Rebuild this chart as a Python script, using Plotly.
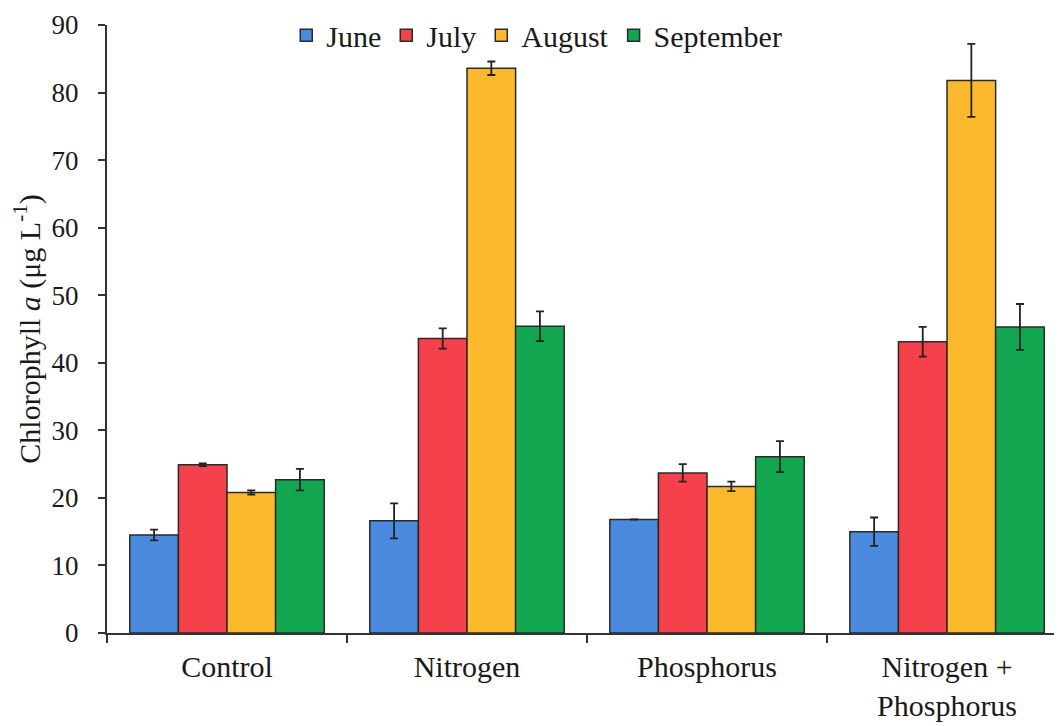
import plotly.graph_objects as go

categories = ["Control", "Nitrogen", "Phosphorus", "Nitrogen +<br>Phosphorus"]
months = ["June", "July", "August", "September"]
june = [14.5, 16.6, 16.8, 15.0]
june_err = [0.8, 2.6, 0.0, 2.1]
july = [24.9, 43.6, 23.7, 43.1]
july_err = [0.2, 1.5, 1.3, 2.2]
august = [20.8, 83.6, 21.7, 81.8]
august_err = [0.3, 1.0, 0.7, 5.4]
september = [22.7, 45.4, 26.1, 45.3]
september_err = [1.6, 2.2, 2.3, 3.4]
colors = ["#4A8BDF", "#F5414B", "#FDB92E", "#13A651"]

series = [june, july, august, september]
errors = [june_err, july_err, august_err, september_err]

fig = go.Figure()
for name, vals, errs, col in zip(months, series, errors, colors):
    fig.add_trace(go.Bar(
        name=name, x=categories, y=vals,
        marker=dict(color=col, line=dict(color="#2a2a2a", width=1.5)),
        error_y=dict(type="data", array=errs, visible=True, color="#222222",
                     thickness=1.8, width=4),
    ))

font_family = "Liberation Serif"
fig.update_layout(
    width=1054, height=718,
    barmode="group", bargap=0.19, bargroupgap=0.0,
    plot_bgcolor="white", paper_bgcolor="white",
    margin=dict(l=99, r=0, t=17, b=93),
    font=dict(family=font_family, size=27, color="#1a1a1a"),
    legend=dict(orientation="h", x=0.45, xanchor="center", y=0.983, yanchor="middle",
                font=dict(family=font_family, size=30), bgcolor="rgba(0,0,0,0)",
                itemwidth=30, traceorder="normal"),
    xaxis=dict(range=[-0.5, 3.479], showline=True, linecolor="#333333", linewidth=2,
               ticks="outside", tickson="boundaries", ticklen=8, tickcolor="#333333",
               tickwidth=1.5, tickfont=dict(family=font_family, size=30), ticklabelstandoff=6,
               showgrid=False, zeroline=False, automargin=False),
    yaxis=dict(range=[0, 90], dtick=10, showline=True, linecolor="#333333", linewidth=2,
               ticks="outside", ticklen=7, tickcolor="#333333", tickwidth=1.5,
               tickfont=dict(family=font_family, size=27), ticklabelstandoff=14,
               showgrid=False, zeroline=False, automargin=False,
               title=dict(text="Chlorophyll <i>a</i> (μg L<sup>-1</sup>)",
                          font=dict(family=font_family, size=30), standoff=8)),
)

fig.write_html("out.html")
